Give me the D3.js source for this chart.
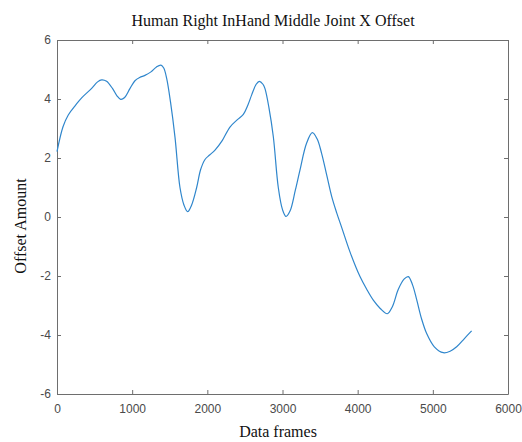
<!DOCTYPE html>
<html>
<head>
<meta charset="utf-8">
<script src="https://cdn.jsdelivr.net/npm/d3@7"></script>
<style>
	body { margin: 0; background: #fff; }
	.axis text { font-family: Arial, "Liberation Sans", sans-serif; font-size: 12px; fill: #4a4a4a; }
	.axis path, .axis line { stroke: #6e6e6e; }
	.label { font-family: "Liberation Serif", "Times New Roman", serif; font-size: 16px; fill: #111; }
</style>
</head>
<body>
<div id="chart"></div>
<script>
// Data
var frames = [0, 80, 150, 250, 328, 461, 540, 594, 660, 740, 800, 847, 900, 970, 1037, 1100, 1170,
	1250, 1320, 1383, 1420, 1459, 1510, 1570, 1636, 1690, 1738, 1790, 1858, 1910, 1969, 2030, 2102,
	2200, 2301, 2400, 2479, 2540, 2590, 2650, 2692, 2740, 2767, 2820, 2878, 2944, 3000, 3047, 3100,
	3170, 3233, 3320, 3397, 3460, 3521, 3590, 3654, 3720, 3787, 3900, 4031, 4120, 4208, 4300, 4394,
	4460, 4541, 4620, 4674, 4730, 4785, 4850, 4918, 5020, 5139, 5230, 5317, 5420, 5516];
var offsets = [2.22, 3.06, 3.46, 3.8, 4.04, 4.36, 4.58, 4.65, 4.6, 4.35, 4.1, 3.99, 4.05, 4.35, 4.62, 4.73, 4.8,
	4.92, 5.08, 5.15, 5.05, 4.7, 3.9, 2.7, 1.0, 0.4, 0.18, 0.4, 1.0, 1.6, 1.95, 2.1, 2.27,
	2.6, 3.05, 3.3, 3.48, 3.8, 4.14, 4.5, 4.6, 4.5, 4.35, 3.7, 2.72, 1.0, 0.25, 0.02, 0.2,
	0.9, 1.6, 2.5, 2.86, 2.65, 2.15, 1.4, 0.7, 0.15, -0.35, -1.2, -2.02, -2.45, -2.82, -3.1, -3.28,
	-3.05, -2.45, -2.1, -2.02, -2.3, -2.8, -3.45, -3.95, -4.4, -4.6, -4.55, -4.4, -4.12, -3.86];
var xTicks = [0, 1000, 2000, 3000, 4000, 5000, 6000];
var yTicks = [-6, -4, -2, 0, 2, 4, 6];

var title = "Human Right InHand Middle Joint X Offset",
		xLabel = "Data frames",
		yLabel = "Offset Amount";

var totalWidth = 522, totalHeight = 442,
		margin = {top: 40, right: 14, bottom: 48, left: 57},
		width = totalWidth - margin.left - margin.right,
		height = totalHeight - margin.top - margin.bottom,
		lineColor = "#2f86cc";

// Plain hyphen minus, as in the reference
var plain = function(d) { return String(d); };

var svg = d3.select("#chart").append("svg")
		.attr("width", totalWidth)
		.attr("height", totalHeight);

var g = svg.append("g")
		.attr("transform", "translate(" + margin.left + "," + margin.top + ")");

var x = d3.scaleLinear().domain([0, 6000]).range([0, width]);
var y = d3.scaleLinear().domain([-6, 6]).range([height, 0]);

// Box axes with inward ticks
g.append("g").attr("class", "axis")
		.attr("transform", "translate(0," + height + ")")
		.call(d3.axisBottom(x).tickValues(xTicks).tickFormat(plain)
			.tickSizeInner(-4).tickSizeOuter(0).tickPadding(10));
g.append("g").attr("class", "axis")
		.call(d3.axisTop(x).tickValues(xTicks).tickSizeInner(-4).tickSizeOuter(0).tickFormat(""));
g.append("g").attr("class", "axis")
		.call(d3.axisLeft(y).tickValues(yTicks).tickFormat(plain)
			.tickSizeInner(-4).tickSizeOuter(0).tickPadding(6));
g.append("g").attr("class", "axis")
		.attr("transform", "translate(" + width + ",0)")
		.call(d3.axisRight(y).tickValues(yTicks).tickSizeInner(-4).tickSizeOuter(0).tickFormat(""));

// Series
var line = d3.line()
		.x(function(d, i) { return x(frames[i]); })
		.y(function(d) { return y(d); })
		.curve(d3.curveCatmullRom.alpha(0.5));

g.append("path")
		.datum(offsets)
		.attr("fill", "none")
		.attr("stroke", lineColor)
		.attr("stroke-width", 1.2)
		.attr("d", line);

// Labels
svg.append("text").attr("class", "label")
		.attr("x", 273).attr("y", 26)
		.attr("text-anchor", "middle")
		.text(title);
svg.append("text").attr("class", "label")
		.attr("x", 278).attr("y", 437)
		.attr("text-anchor", "middle")
		.text(xLabel);
svg.append("text").attr("class", "label")
		.attr("transform", "translate(26,226) rotate(-90)")
		.attr("text-anchor", "middle")
		.text(yLabel);
</script>
</body>
</html>
